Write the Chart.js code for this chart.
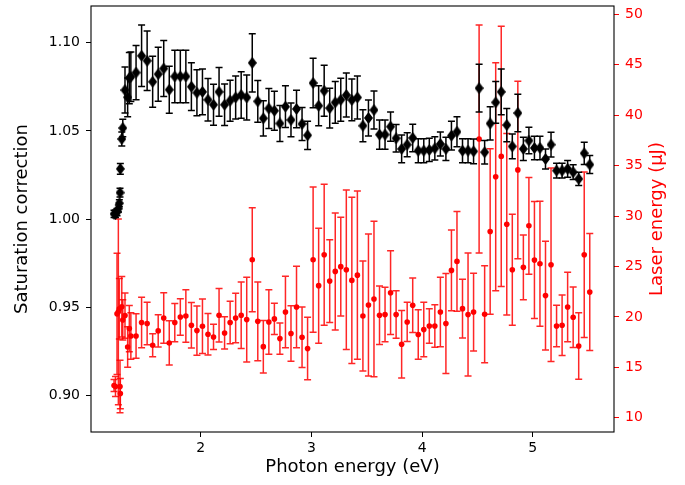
<!DOCTYPE html>
<html>
<head>
<meta charset="utf-8">
<script src="https://cdn.jsdelivr.net/npm/chart.js@4.4.0/dist/chart.umd.min.js"></script>
<style>
  html, body { margin: 0; padding: 0; background: #fff; }
</style>
</head>
<body>
<canvas id="chart" width="685" height="485"></canvas>
<script>
// photon energy (eV), shared by both series
const photonEnergy = [
  1.216, 1.229, 1.243, 1.255, 1.264, 1.270, 1.273, 1.286, 1.295,
  1.315, 1.339, 1.354, 1.368,
  1.415, 1.465, 1.515, 1.565, 1.615, 1.665, 1.715, 1.765, 1.815, 1.865,
  1.915, 1.965, 2.015, 2.065, 2.115, 2.165, 2.215, 2.265, 2.315, 2.365,
  2.415, 2.465, 2.515, 2.565, 2.615, 2.665, 2.715, 2.765, 2.815, 2.865,
  2.915, 2.965, 3.015, 3.065, 3.115, 3.165, 3.215, 3.265, 3.315, 3.365,
  3.415, 3.465, 3.515, 3.565, 3.615, 3.665, 3.715, 3.765, 3.815, 3.865,
  3.915, 3.965, 4.015, 4.065, 4.115, 4.165, 4.215, 4.265, 4.315, 4.365,
  4.415, 4.465, 4.515, 4.565, 4.615, 4.665, 4.715, 4.765, 4.815, 4.865,
  4.915, 4.965, 5.015, 5.065, 5.115, 5.165, 5.215, 5.265, 5.315, 5.365,
  5.415, 5.465, 5.515
];

// saturation correction (left axis)
const satCorr = [
  1.003, 1.003, 1.004, 1.006, 1.009, 1.015, 1.0285, 1.0454, 1.0516,
  1.0731, 1.069, 1.0799, 1.0806,
  1.083, 1.0925, 1.0897, 1.0778, 1.0821, 1.0853, 1.0733, 1.0808, 1.0808, 1.0808,
  1.075, 1.0716, 1.0721, 1.0676, 1.0648, 1.0721, 1.0648, 1.0671, 1.0689, 1.0703,
  1.0689, 1.0885, 1.0667, 1.0571, 1.0627, 1.0614, 1.0542, 1.0637, 1.0562, 1.0624,
  1.0539, 1.0475, 1.0771, 1.0642, 1.0727, 1.0629, 1.0661, 1.0676, 1.0703, 1.0675,
  1.0689, 1.0529, 1.0573, 1.0618, 1.0479, 1.0479, 1.0524, 1.0458, 1.0398, 1.0422,
  1.046, 1.0388, 1.0388, 1.0392, 1.0401, 1.0426, 1.0398, 1.0473, 1.0495, 1.0388,
  1.0388, 1.0384, 1.0742, 1.0379, 1.0542, 1.0661, 1.0721, 1.0533, 1.0412, 1.0601,
  1.0398, 1.0445, 1.0403, 1.0403, 1.0341, 1.0422, 1.0275, 1.0275, 1.0285, 1.0266,
  1.0228, 1.0373, 1.0309
];
const satErr = [
  0.002, 0.002, 0.002, 0.002, 0.002, 0.0025, 0.003, 0.004, 0.005,
  0.013, 0.011, 0.0145, 0.014,
  0.0154, 0.0174, 0.0168, 0.0144, 0.0153, 0.0158, 0.0133, 0.0149, 0.0149, 0.0149,
  0.0135, 0.013, 0.013, 0.012, 0.0116, 0.0138, 0.0118, 0.0116, 0.0122, 0.0132,
  0.0127, 0.0165, 0.0118, 0.01, 0.0113, 0.011, 0.0102, 0.0118, 0.0096, 0.0106,
  0.0093, 0.008, 0.014, 0.0113, 0.0144, 0.0113, 0.0118, 0.0122, 0.0125, 0.0118,
  0.0122, 0.009, 0.0102, 0.0108, 0.0083, 0.0083, 0.0083, 0.0078, 0.0079, 0.0068,
  0.0078, 0.0068, 0.0068, 0.0066, 0.0066, 0.0068, 0.0066, 0.0081, 0.0085, 0.0068,
  0.0068, 0.007, 0.0135, 0.0066, 0.0094, 0.0118, 0.013, 0.0094, 0.007, 0.0106,
  0.0066, 0.0075, 0.0066, 0.0066, 0.0057, 0.007, 0.0042, 0.0042, 0.0047, 0.0042,
  0.0038, 0.0063, 0.0051
];

// laser energy in uJ (right axis)
const laserEnergy = [
  13.2, 13.1, 20.3, 20.5, 20.8, 13.1, 12.4, 21.0, 19.7,
  20.13, 17.02, 18.84, 18.11,
  18.11, 19.44, 19.34, 17.19, 18.61, 19.89, 17.42, 19.44, 19.99, 20.09,
  19.17, 18.64, 19.07, 18.28, 18.01, 20.16, 18.41, 19.44, 19.89, 20.16,
  19.73, 25.67, 19.56, 17.05, 19.5, 19.8, 17.85, 20.48, 18.35, 20.98,
  17.98, 16.86, 25.67, 23.1, 26.16, 23.55, 24.51, 24.98, 24.68, 23.62,
  24.14, 20.09, 21.18, 21.77, 20.16, 20.23, 22.4, 20.23, 17.29, 19.5,
  21.15, 18.25, 18.74, 19.1, 19.1, 20.48, 19.34, 24.61, 25.5, 20.82,
  20.23, 20.48, 37.64, 20.26, 28.47, 33.9, 35.91, 29.19, 24.68, 34.57,
  24.91, 29.03, 25.63, 25.27, 22.11, 25.17, 19.1, 19.17, 20.98, 19.96,
  17.12, 26.16, 22.46
];
const laserErr = [
  0.6, 1.0, 6.0, 9.2, 3.0, 2.6, 1.5, 3.0, 2.0,
  2.25, 2.0, 2.3, 2.3,
  2.2, 2.5, 2.1, 1.15, 1.6, 2.5, 2.2, 1.9, 1.8, 2.6,
  2.25, 2.45, 2.7, 2.05, 1.25, 2.65, 1.6, 2.1, 2.45, 3.3,
  4.2, 5.15, 3.9, 2.6, 3.2, 1.55, 1.55, 3.55, 2.75, 4.05,
  3.0, 3.1, 7.2, 5.7, 7.0, 4.1, 5.8, 4.9, 7.9, 8.25,
  8.35, 5.45, 7.05, 7.7, 2.9, 2.7, 4.15, 2.35, 3.35, 1.95,
  2.7, 2.45, 2.7, 1.7, 2.1, 3.45, 4.95, 4.0, 4.95, 2.9,
  6.1, 3.85, 11.3, 4.8, 8.2, 11.3, 12.9, 9.0, 5.5, 8.8,
  3.2, 4.8, 5.8, 6.2, 5.4, 9.6, 2.05, 3.0, 3.45, 3.0,
  3.3, 8.2, 5.8
];

const xTicks = [2, 3, 4, 5];
const leftTicks = [0.90, 0.95, 1.00, 1.05, 1.10];
const rightTicks = [10, 15, 20, 25, 30, 35, 40, 45, 50];

// thin diamond marker (matplotlib 'd')
const diamond = document.createElement('canvas');
diamond.width = 9; diamond.height = 12;
(function () {
  const g = diamond.getContext('2d');
  g.fillStyle = '#000';
  g.beginPath();
  g.moveTo(4.5, 0); g.lineTo(9, 6); g.lineTo(4.5, 12); g.lineTo(0, 6);
  g.closePath(); g.fill();
})();

// error bars drawn through the scales, just before each dataset
const errorBars = {
  id: 'errorBars',
  beforeDatasetDraw(chart, args) {
    const ds = chart.data.datasets[args.index];
    if (!ds.errors) return;
    const xs = chart.scales.x, ys = chart.scales[ds.yAxisID];
    const ctx = chart.ctx;
    ctx.save();
    ctx.strokeStyle = ds.errorColor;
    ctx.lineWidth = 1.5;
    ds.data.forEach((p, i) => {
      const px = xs.getPixelForValue(p.x);
      const t = ys.getPixelForValue(p.y + ds.errors[i]);
      const b = ys.getPixelForValue(p.y - ds.errors[i]);
      ctx.beginPath();
      ctx.moveTo(px, t); ctx.lineTo(px, b);
      ctx.moveTo(px - 3.5, t); ctx.lineTo(px + 3.5, t);
      ctx.moveTo(px - 3.5, b); ctx.lineTo(px + 3.5, b);
      ctx.stroke();
    });
    ctx.restore();
  }
};

// axes frame + right axis title (reads bottom to top like matplotlib)
const frame = {
  id: 'frame',
  afterDraw(chart) {
    const { ctx, chartArea: a } = chart;
    ctx.save();
    ctx.strokeStyle = '#000';
    ctx.lineWidth = 1.1;
    ctx.strokeRect(a.left, a.top, a.right - a.left, a.bottom - a.top);
    ctx.translate(657, (a.top + a.bottom) / 2);
    ctx.rotate(-Math.PI / 2);
    ctx.fillStyle = '#ff0000';
    ctx.font = '18px "DejaVu Sans"';
    ctx.textAlign = 'center';
    ctx.textBaseline = 'middle';
    ctx.fillText('Laser energy (\u03bcJ)', 0, 0);
    ctx.restore();
  }
};

// fixed axis boxes so the plot area lands where the reference has it
function fixBox(size) {
  return s => {
    if (s.isHorizontal()) s.height = size; else s.width = size;
    s.paddingTop = 0; s.paddingBottom = 0;
    s.paddingLeft = 0; s.paddingRight = 0;
  };
}

Chart.defaults.font.family = '"DejaVu Sans", sans-serif';
Chart.defaults.font.size = 14;
Chart.defaults.color = '#000';

new Chart(document.getElementById('chart'), {
  type: 'scatter',
  data: {
    datasets: [
      {
        label: 'Saturation correction',
        data: photonEnergy.map((x, i) => ({ x, y: satCorr[i] })),
        errors: satErr,
        errorColor: '#000',
        yAxisID: 'y',
        pointStyle: diamond,
        pointRadius: 5,
        backgroundColor: '#000',
        borderColor: '#000'
      },
      {
        label: 'Laser energy',
        data: photonEnergy.map((x, i) => ({ x, y: laserEnergy[i] })),
        errors: laserErr,
        errorColor: 'rgba(255,0,0,0.85)',
        yAxisID: 'y1',
        pointStyle: 'circle',
        pointRadius: 2.8,
        borderWidth: 0,
        backgroundColor: '#ff0000',
        borderColor: '#ff0000'
      }
    ]
  },
  options: {
    responsive: false,
    animation: false,
    devicePixelRatio: 1,
    layout: { padding: { top: 5, left: 0, right: 0, bottom: 0 } },
    plugins: { legend: { display: false }, tooltip: { enabled: false } },
    scales: {
      x: {
        type: 'linear',
        min: 1.0078,
        max: 5.734,
        afterBuildTicks: s => { s.ticks = xTicks.map(v => ({ value: v })); },
        afterFit: fixBox(53),
        ticks: { color: '#000', padding: 3, maxRotation: 0, callback: v => String(v) },
        grid: { drawOnChartArea: false, drawTicks: true, tickLength: 5, tickColor: '#000' },
        border: { display: false },
        title: {
          display: true,
          text: 'Photon energy (eV)',
          color: '#000',
          font: { size: 18 },
          padding: { top: 0, bottom: 7 }
        }
      },
      y: {
        type: 'linear',
        position: 'left',
        min: 0.8795,
        max: 1.1207,
        afterBuildTicks: s => { s.ticks = leftTicks.map(v => ({ value: v })); },
        afterFit: fixBox(91),
        ticks: { color: '#000', padding: 6, callback: v => v.toFixed(2) },
        grid: { drawOnChartArea: false, drawTicks: true, tickLength: 5, tickColor: '#000' },
        border: { display: false },
        title: {
          display: true,
          text: 'Saturation correction',
          color: '#000',
          font: { size: 18 },
          padding: { top: 12, bottom: 0 }
        }
      },
      y1: {
        type: 'linear',
        position: 'right',
        min: 8.59,
        max: 50.82,
        afterBuildTicks: s => { s.ticks = rightTicks.map(v => ({ value: v })); },
        afterFit: fixBox(71),
        ticks: { color: '#ff0000', padding: 6, callback: v => String(v) },
        grid: { drawOnChartArea: false, drawTicks: true, tickLength: 5, tickColor: '#ff0000' },
        border: { display: false }
      }
    }
  },
  plugins: [errorBars, frame]
});
</script>
</body>
</html>
